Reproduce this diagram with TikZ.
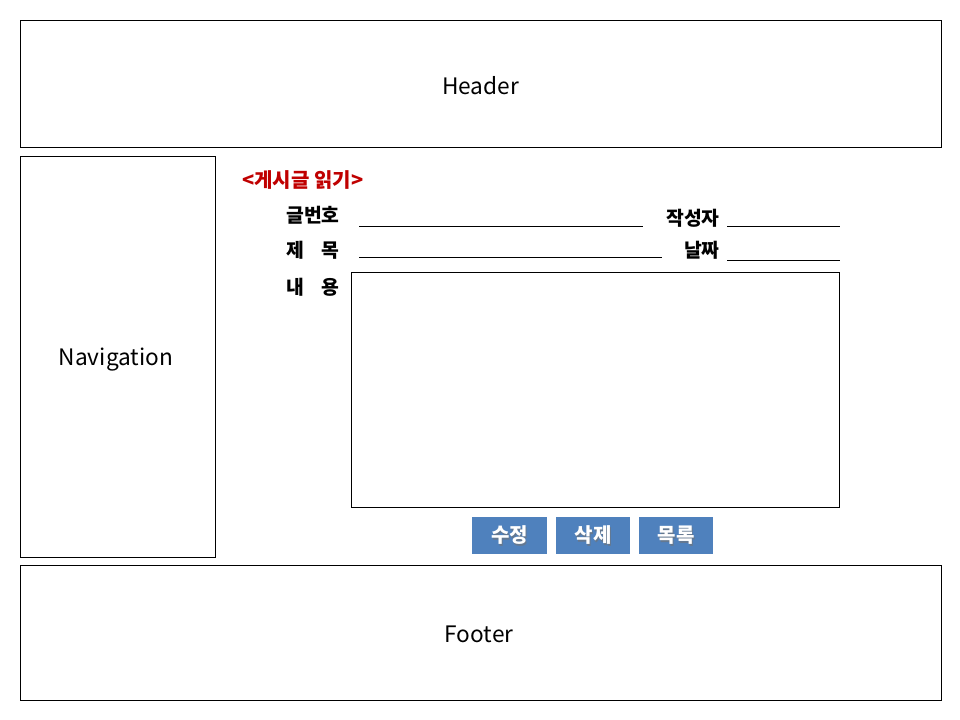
\documentclass[tikz,border=0pt]{standalone}
\usepackage{fontspec}
\setmainfont{Noto Sans CJK KR}
\newfontfamily\kfont{Noto Sans CJK KR}
\definecolor{titlered}{RGB}{192,0,0}
\definecolor{btnblue}{RGB}{79,129,189}
\begin{document}
\begin{tikzpicture}[x=0.75pt,y=-0.75pt,
  panel/.style={draw=black,line width=0.75pt,fill=white},
  big/.style={font=\fontsize{17}{19}\selectfont,inner sep=0pt},
  lbl/.style={font=\kfont\fontsize{14.5}{16}\selectfont\bfseries,inner sep=0pt},
  fieldline/.style={draw=black,line width=0.75pt},
  btnbox/.style={fill=btnblue,draw=none},
  btn/.style={text=white,font=\kfont\fontsize{15}{17}\selectfont\bfseries,inner sep=0pt},
  btnshadow/.style={text=black!55,font=\kfont\fontsize{15}{17}\selectfont\bfseries,inner sep=0pt,opacity=0.6}]
\useasboundingbox (0,0) rectangle (960,720);
\fill[white] (0,0) rectangle (960,720);
% header / nav / footer
\draw[panel] (20,21) rectangle (941,148);
\node[big] (header) at (480.5,86) {Header};
\draw[panel] (20,157) rectangle (215,557);
\node[big] (nav) at (116,360) {Navigation};
\draw[panel] (20,565) rectangle (941,700);
\node[big] (footer) at (479,634) {Footer};
% title
\node[anchor=west,text=titlered,font=\kfont\fontsize{15}{17}\selectfont\bfseries,inner sep=0pt] (title) at (242,180) {<게시글 읽기>};
% labels
\node[lbl,anchor=west] (no) at (286,215) {글번호};
\coordinate (l1a) at (359,227); \coordinate (l1b) at (643,227);
\draw[fieldline] (l1a) -- (l1b);
\node[lbl,anchor=east] (writer) at (720,218) {작성자};
\coordinate (l2a) at (727,227); \coordinate (l2b) at (840,227);
\draw[fieldline] (l2a) -- (l2b);
\node[lbl,anchor=west] (subj) at (286,250) {제\hspace{0.9em}목};
\coordinate (l3a) at (359,258); \coordinate (l3b) at (662,258);
\draw[fieldline] (l3a) -- (l3b);
\node[lbl,anchor=east] (date) at (720,250) {날짜};
\coordinate (l4a) at (727,261); \coordinate (l4b) at (840,261);
\draw[fieldline] (l4a) -- (l4b);
\node[lbl,anchor=west] (cont) at (286,287) {내\hspace{0.9em}용};
\draw[panel] (351,273) rectangle (839,507);
% buttons
\fill[btnbox] (472,517) rectangle (547,554);
\fill[btnbox] (556,517) rectangle (630,554);
\fill[btnbox] (639,517) rectangle (713,554);
\node[btnshadow] at (510.5,537) {수정};
\node[btnshadow] at (594,537) {삭제};
\node[btnshadow] at (677,537) {목록};
\node[btn] (b1) at (509.5,535.5) {수정};
\node[btn] (b2) at (593,535.5) {삭제};
\node[btn] (b3) at (676,535.5) {목록};
\end{tikzpicture}
\end{document}
